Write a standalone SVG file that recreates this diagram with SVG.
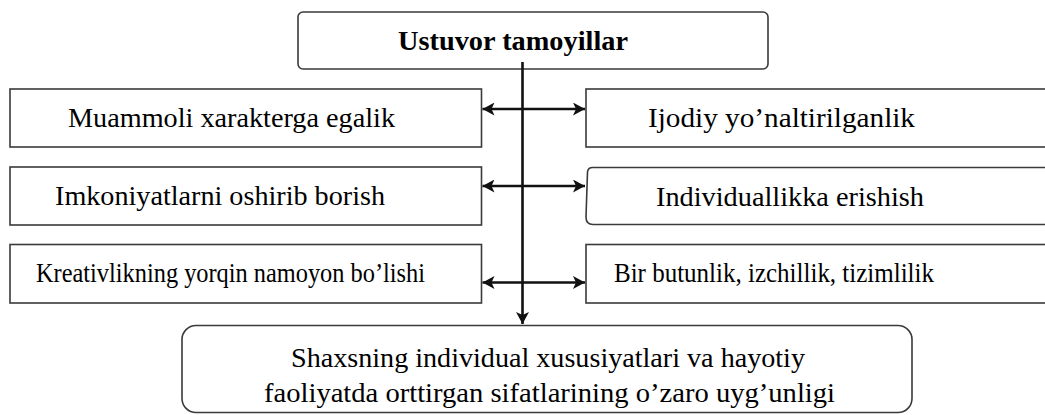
<svg xmlns="http://www.w3.org/2000/svg" width="1045" height="415" viewBox="0 0 1045 415">
<style>
.box{fill:#fff;stroke:#3a3a3a;stroke-width:1.6}
.t{font-family:"Liberation Serif","Times New Roman",serif;font-size:27px;fill:#000}
.b{font-weight:bold}
.c{stroke:#111;stroke-width:2.6;fill:none}
</style>
<defs>
<marker id="ah" markerUnits="userSpaceOnUse" markerWidth="13" markerHeight="13" refX="12" refY="6.5" orient="auto-start-reverse">
<path d="M0,0 L12,6.5 L0,13 L3,6.5 z" fill="#111"/>
</marker>
</defs>
<rect width="1045" height="415" fill="#fff"/>
<g id="top">
<rect class="box" x="298" y="12" width="470" height="57" rx="5"/>
<text class="t b" x="398" y="50" textLength="230" lengthAdjust="spacingAndGlyphs">Ustuvor tamoyillar</text>
</g>
<g id="left1">
<rect class="box" x="10" y="89" width="471.5" height="58"/>
<text class="t" x="68" y="127" textLength="327" lengthAdjust="spacingAndGlyphs">Muammoli xarakterga egalik</text>
</g>
<g id="left2">
<rect class="box" x="10" y="167" width="471.5" height="58"/>
<text class="t" x="55" y="205" textLength="330" lengthAdjust="spacingAndGlyphs">Imkoniyatlarni oshirib borish</text>
</g>
<g id="left3">
<rect class="box" x="10" y="244.5" width="471.5" height="58.5"/>
<text class="t" x="36" y="282" textLength="389" lengthAdjust="spacingAndGlyphs" style="font-size:28px">Kreativlikning yorqin namoyon bo’lishi</text>
</g>
<g id="right1">
<rect class="box" x="586" y="89" width="470" height="58"/>
<text class="t" x="648" y="127" textLength="267" lengthAdjust="spacingAndGlyphs">Ijodiy yo’naltirilganlik</text>
</g>
<g id="right2">
<path class="box" d="M1050,167.5 H592.5 Q588,167.5 587.5,172 L586,217 Q586,224.5 593,224.5 H1050"/>
<text class="t" x="656" y="206" textLength="268" lengthAdjust="spacingAndGlyphs">Individuallikka erishish</text>
</g>
<g id="right3">
<rect class="box" x="586" y="244.5" width="470" height="58.5"/>
<text class="t" x="614" y="282" textLength="320" lengthAdjust="spacingAndGlyphs">Bir butunlik, izchillik, tizimlilik</text>
</g>
<g id="bottom">
<rect class="box" x="182" y="325.5" width="730" height="87" rx="14"/>
<text class="t" x="291" y="367" textLength="514" lengthAdjust="spacingAndGlyphs">Shaxsning individual xususiyatlari va hayotiy</text>
<text class="t" x="264" y="402" textLength="571" lengthAdjust="spacingAndGlyphs">faoliyatda orttirgan sifatlarining o’zaro uyg’unligi</text>
</g>
<g id="connectors">
<line class="c" x1="522.5" y1="62" x2="522.5" y2="324" marker-end="url(#ah)"/>
<line class="c" x1="482.5" y1="109" x2="585" y2="109" marker-start="url(#ah)" marker-end="url(#ah)"/>
<line class="c" x1="482.5" y1="186" x2="585" y2="186" marker-start="url(#ah)" marker-end="url(#ah)"/>
<line class="c" x1="482.5" y1="282.5" x2="585" y2="282.5" marker-start="url(#ah)" marker-end="url(#ah)"/>
</g>
</svg>
